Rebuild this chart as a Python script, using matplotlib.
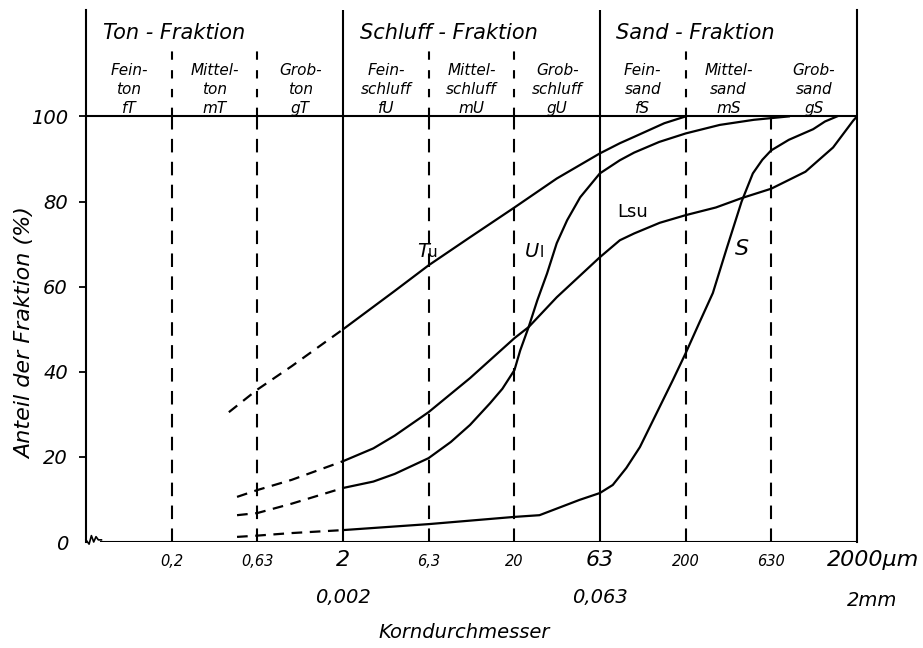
import matplotlib
matplotlib.use('Agg')
import matplotlib.pyplot as plt
from matplotlib.transforms import blended_transform_factory

plt.rcParams['font.family'] = ['DejaVu Sans']
plt.rcParams['font.style'] = 'oblique'

# Kornfraktionen (Grenzen in µm)
haupt_grenzen = [2, 63]
neben_grenzen = [0.2, 0.63, 6.3, 20, 200, 630]
kopf_striche = [0.2, 0.63, 6.3, 20, 200]
grenzen = [0.063, 0.2, 0.63, 2, 6.3, 20, 63, 200, 630, 2000]

fraktionen = ['Ton - Fraktion', 'Schluff - Fraktion', 'Sand - Fraktion']
fraktion_start = [0.063, 2, 63]
unter_zeile1 = ['Fein-', 'Mittel-', 'Grob-', 'Fein-', 'Mittel-', 'Grob-', 'Fein-', 'Mittel-', 'Grob-']
unter_zeile2 = ['ton', 'ton', 'ton', 'schluff', 'schluff', 'schluff', 'sand', 'sand', 'sand']
unter_zeile3 = ['fT', 'mT', 'gT', 'fU', 'mU', 'gU', 'fS', 'mS', 'gS']

# x-Achsenbeschriftung
x_klein = [0.2, 0.63, 6.3, 20, 200, 630]
x_klein_text = ['0,2', '0,63', '6,3', '20', '200', '630']
x_gross = [2, 63]
x_gross_text = ['2', '63']
x_mm = [2, 63]
x_mm_text = ['0,002', '0,063']

y_ticks = [0, 20, 40, 60, 80, 100]

# Summenkurven: gestrichelter (extrapolierter) Teil + durchgezogener Teil
tu_d_x = [0.43, 0.63, 1.0, 2]
tu_d_y = [30.5, 35.8, 41.3, 50]
tu_x = [2, 4, 6.3, 11, 20, 35.3, 63, 82.5, 100, 150, 200]
tu_y = [50, 59, 65, 71.6, 78.6, 85.4, 91.3, 93.7, 95.2, 98.4, 100]

lsu_d_x = [0.48, 0.63, 1.0, 2]
lsu_d_y = [10.6, 12.2, 14.6, 19]
lsu_x = [2, 3, 4, 6.3, 11, 20, 24.2, 35.3, 63, 82.5, 100, 141, 200, 300, 424, 630, 1000, 1450, 1900, 2000]
lsu_y = [19, 22, 25, 30.5, 38.5, 47.9, 50.5, 57.5, 66.9, 70.9, 72.5, 75, 76.8, 78.6, 80.8, 83, 87, 92.7, 99, 100]

ul_d_x = [0.48, 0.63, 1.0, 2]
ul_d_y = [6.3, 6.8, 9, 12.7]
ul_x = [2, 3, 4, 6.3, 8.5, 11, 14.4, 17, 20, 21.6, 24.2, 27.2, 31, 35.3, 40.6, 48.4, 63, 82.5, 100, 140,
        200, 316, 500, 800]
ul_y = [12.7, 14.2, 16, 19.7, 23.5, 27.5, 32.6, 36, 40.4, 45, 50.5, 56.8, 63.1, 70.2, 75.6, 81, 86.6, 89.7,
        91.5, 94, 96, 98, 99.2, 100]

s_d_x = [0.48, 0.63, 1.0, 2]
s_d_y = [1.2, 1.5, 2.1, 2.8]
s_x = [2, 6.3, 20, 28, 48, 63, 75, 90, 108, 168, 200, 240, 288, 347, 424, 493, 560, 630, 800, 1110, 1300, 1530]
s_y = [2.8, 4.2, 5.9, 6.3, 9.9, 11.5, 13.4, 17.4, 22.3, 38, 44.4, 51.5, 58.5, 69, 80, 86.6, 89.8, 92, 94.5,
       97, 98.8, 100]

fig = plt.figure(figsize=(9.23, 6.48), dpi=100)
ax = fig.add_axes([86 / 923, 106 / 648, 771 / 923, 532 / 648])
ax.set_xscale('log')
ax.set_xlim(0.063, 2000)
ax.set_ylim(0, 125)

lw = 1.5
for s in ['top', 'bottom']:
    ax.spines[s].set_visible(False)
for s in ['left', 'right']:
    ax.spines[s].set_linewidth(lw)

# Rahmen, Linie bei 100 %, Achsenlinie mit Bruchzeichen
ax.axhline(100, color='black', lw=lw)
ax.axhline(0, xmin=0.02, xmax=1, color='black', lw=lw)
ax.plot([0.0, 0.004, 0.007, 0.010, 0.013, 0.016, 0.02],
        [0.004, -0.004, 0.012, 0.0, 0.010, 0.004, 0.004],
        transform=ax.transAxes, color='black', lw=1.2, clip_on=False)

for g in haupt_grenzen:
    ax.plot([g, g], [0, 125], color='black', lw=lw)
for g in neben_grenzen:
    ax.plot([g, g], [0, 100], color='black', lw=lw, dashes=(6.5, 4.5))
for g in kopf_striche:
    ax.plot([g, g], [100, 115.5], color='black', lw=lw, dashes=(4, 5))

# Kurven
for dx, dy, x, y in [(tu_d_x, tu_d_y, tu_x, tu_y),
                     (lsu_d_x, lsu_d_y, lsu_x, lsu_y),
                     (ul_d_x, ul_d_y, ul_x, ul_y),
                     (s_d_x, s_d_y, s_x, s_y)]:
    ax.plot(dx, dy, color='black', lw=1.6, dashes=(4.8, 3.4))
    ax.plot(x, y, color='black', lw=1.6, solid_joinstyle='round')

# Kurvenbezeichnungen
ax.annotate('T', (5.4, 66.9), fontsize=14, va='baseline', ha='left')
ax.annotate('u', (5.4, 66.9), xytext=(8, 0), textcoords='offset points',
            fontsize=11, style='normal', va='baseline', ha='left')
ax.annotate('U', (23.0, 66.9), fontsize=14, va='baseline', ha='left')
ax.annotate('l', (23.0, 66.9), xytext=(10.5, 0), textcoords='offset points',
            fontsize=11, style='normal', va='baseline', ha='left')
ax.text(80, 76.3, 'Lsu', fontsize=13, style='normal', va='baseline', ha='left')
ax.text(388, 67.4, 'S', fontsize=16, va='baseline', ha='left')

# Kopfzeilen
for name, start in zip(fraktionen, fraktion_start):
    ax.annotate(name, (start, 119.7), xytext=(12, 0), textcoords='offset points',
                fontsize=15, va='center', ha='left')
for i in range(9):
    xm = (grenzen[i] * grenzen[i + 1]) ** 0.5
    ax.text(xm, 110.8, unter_zeile1[i], fontsize=11, ha='center', va='center')
    ax.text(xm, 106.3, unter_zeile2[i], fontsize=11, ha='center', va='center')
    ax.text(xm, 101.9, unter_zeile3[i], fontsize=11, ha='center', va='center')

# y-Achse
ax.set_yticks(y_ticks)
ax.set_yticklabels([str(v) for v in y_ticks], fontsize=14)
ax.tick_params(axis='y', direction='out', length=5, width=1.3, pad=8)
ax.yaxis.get_major_ticks()[0].tick1line.set_visible(False)
ax.set_xticks([])
ax.minorticks_off()
fig.text(25 / 923, 1 - 333 / 648, 'Anteil der Fraktion (%)', fontsize=16,
         rotation=90, ha='center', va='center')

# x-Achse
tr = blended_transform_factory(ax.transData, ax.transAxes)
for xv, t in zip(x_klein, x_klein_text):
    ax.annotate(t, (xv, 0), xycoords=tr, xytext=(0, -14), textcoords='offset points',
                fontsize=10.5, ha='center', va='center')
for xv, t in zip(x_gross, x_gross_text):
    ax.annotate(t, (xv, 0), xycoords=tr, xytext=(0, -13), textcoords='offset points',
                fontsize=16, ha='center', va='center')
ax.annotate('2000µm', (2000, 0), xycoords=tr, xytext=(-22, -13), textcoords='offset points',
            fontsize=16, ha='left', va='center')
for xv, t in zip(x_mm, x_mm_text):
    ax.annotate(t, (xv, 0), xycoords=tr, xytext=(0, -40), textcoords='offset points',
                fontsize=14, ha='center', va='center')
ax.annotate('2mm', (2000, 0), xycoords=tr, xytext=(11, -42), textcoords='offset points',
            fontsize=14, ha='center', va='center')
ax.annotate('Korndurchmesser', (0.49, 0), xycoords='axes fraction', xytext=(0, -65),
            textcoords='offset points', fontsize=14, ha='center', va='center')

fig.savefig('out.png', dpi=100)
